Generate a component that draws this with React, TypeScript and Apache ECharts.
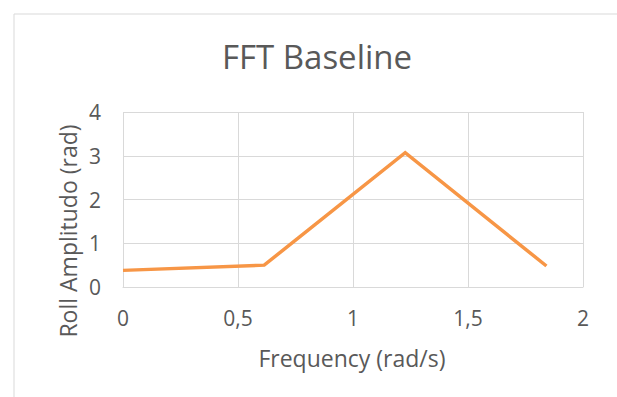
import React, { useEffect, useRef } from "react";
import * as echarts from "echarts";

// Frequency (rad/s) and roll amplitude (rad) of the baseline FFT
const frequencies = [0, 0.614, 1.227, 1.841];
const amplitudes = [0.38, 0.5, 3.07, 0.48];

const titleText = "FFT Baseline";
const xTitle = "Frequency (rad/s)";
const yTitle = "Roll Amplitudo (rad)";

const FONT = "'Open Sans', 'Noto Sans', sans-serif";
const TEXT = "#595959";
const GRID = "#d9d9d9";

export default function App() {
  const ref = useRef<HTMLDivElement>(null);

  useEffect(() => {
    if (!ref.current) return;
    const chart = echarts.init(ref.current, undefined, { renderer: "svg" });
    chart.setOption({
      animation: false,
      backgroundColor: "#ffffff",
      textStyle: { fontFamily: FONT },
      graphic: [
        {
          type: "rect",
          shape: { x: 14, y: 14, width: 800, height: 800 },
          style: { fill: "none", stroke: GRID, lineWidth: 1 },
          silent: true,
        },
        {
          type: "text",
          x: 317,
          y: 56,
          style: {
            text: titleText,
            font: `33px ${FONT}`,
            fill: TEXT,
            align: "center",
            verticalAlign: "middle",
          },
        },
        {
          type: "text",
          x: 352,
          y: 358,
          style: {
            text: xTitle,
            font: `23px ${FONT}`,
            fill: TEXT,
            align: "center",
            verticalAlign: "middle",
          },
        },
        {
          type: "text",
          x: 68,
          y: 231,
          rotation: Math.PI / 2,
          style: {
            text: yTitle,
            font: `23px ${FONT}`,
            fill: TEXT,
            align: "center",
            verticalAlign: "middle",
          },
        },
      ],
      grid: { left: 123, right: 34, top: 112, bottom: 110 },
      xAxis: {
        type: "value",
        min: 0,
        max: 2,
        interval: 0.5,
        axisLine: { show: true, lineStyle: { color: GRID, width: 1 } },
        axisTick: { show: false },
        splitLine: { show: true, lineStyle: { color: GRID, width: 1 } },
        axisLabel: {
          color: TEXT,
          fontSize: 21,
          fontFamily: FONT,
          margin: 20,
          formatter: (v: number) => String(v).replace(".", ","),
        },
      },
      yAxis: {
        type: "value",
        min: 0,
        max: 4,
        interval: 1,
        axisLine: { show: false },
        axisTick: { show: false },
        splitLine: { show: true, lineStyle: { color: GRID, width: 1 } },
        axisLabel: { color: TEXT, fontSize: 21, fontFamily: FONT, margin: 22 },
      },
      series: [
        {
          type: "line",
          data: frequencies.map((f, i) => [f, amplitudes[i]]),
          showSymbol: false,
          lineStyle: { color: "#F79646", width: 3.5, join: "miter" },
        },
      ],
    });
    return () => chart.dispose();
  }, []);

  return (
    <div
      ref={ref}
      style={{ position: "absolute", left: 0, top: 0, width: 617, height: 397 }}
    />
  );
}
